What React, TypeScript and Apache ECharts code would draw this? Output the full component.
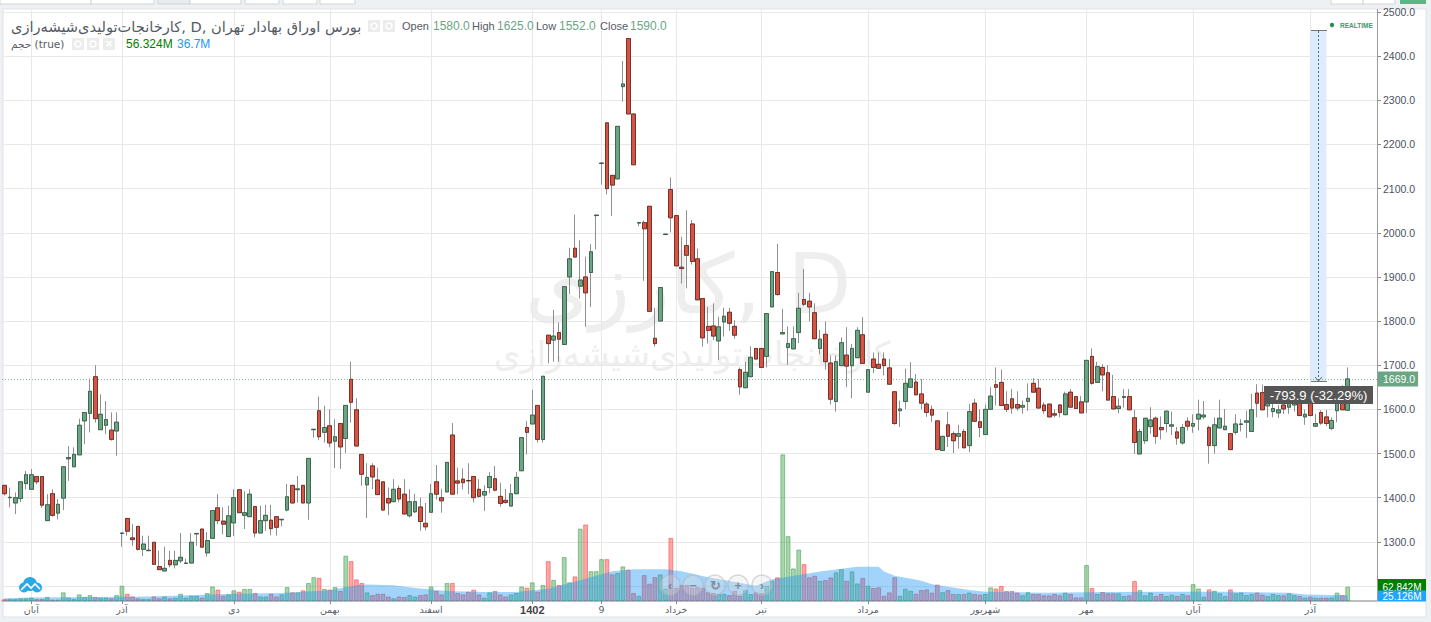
import React, { useEffect, useRef } from "react";
import * as echarts from "echarts";

const opens = [
1428,1400,1388,1398,1432,1419,1448,1448,1348,1409,1365,1399,1488,1470,1497,1574,1591,1674,1554,1564,
1553,1551,1319,1353,1309,1335,1283,1280,1299,1244,1234,1258,1248,1257,1251,1252,1318,1329,1275,1308,
1377,1347,1312,1343,1418,1360,1357,1380,1320,1348,1349,1357,1350,1372,1428,1418,1428,1388,1554,1597,
1548,1563,1528,1568,1534,1668,1599,1498,1429,1472,1440,1436,1398,1391,1421,1408,1359,1368,1379,1342,
1367,1436,1400,1413,1542,1438,1442,1439,1448,1419,1406,1423,1443,1403,1394,1381,1409,1461,1559,1567,
1609,1532,1768,1757,1774,1747,1900,1965,1879,1900,1910,2039,2157,2249,2130,2122,2331,2440,2269,2022,
2023,2060,1761,1800,1996,2098,2039,1922,1971,2020,1941,1851,1788,1789,1755,1798,1820,1788,1690,1649,
1674,1738,1738,1720,1832,1910,1771,1740,1737,1774,1849,1845,1819,1738,1770,1705,1618,1699,1723,1699,
1717,1769,1639,1714,1702,1714,1694,1640,1597,1618,1650,1662,1635,1612,1600,1574,1507,1565,1545,1539,
1550,1518,1614,1572,1543,1600,1656,1661,1611,1624,1611,1605,1618,1659,1648,1610,1612,1590,1610,1588,
1639,1629,1617,1617,1720,1661,1695,1683,1629,1602,1627,1629,1581,1499,1529,1561,1580,1559,1568,1562,
1549,1524,1573,1562,1578,1583,1559,1518,1558,1554,1545,1548,1566,1571,1550,1637,1638,1608,1595,1592,
1610,1605,1610,1635,1583,1627,1562,1593,1583,1557,1597,1628,1598];
const closes = [
1409,1401,1400,1436,1452,1452,1436,1383,1384,1360,1385,1470,1491,1498,1564,1593,1641,1579,1589,1577,
1532,1571,1320,1324,1305,1283,1295,1281,1249,1237,1240,1248,1258,1265,1252,1299,1319,1288,1303,1371,
1348,1340,1359,1400,1366,1366,1408,1320,1348,1360,1330,1333,1351,1402,1388,1420,1388,1489,1555,1538,
1559,1524,1538,1515,1609,1616,1517,1453,1446,1447,1407,1372,1388,1419,1397,1363,1391,1391,1346,1334,
1409,1408,1393,1480,1408,1433,1434,1438,1400,1403,1414,1448,1417,1387,1389,1409,1446,1536,1548,1587,
1532,1675,1749,1766,1759,1878,1941,1945,1893,1864,1957,2040,2158,2100,2108,2241,2337,2269,2154,2023,
2009,1822,1749,1876,1997,2034,1925,1919,1949,1935,1848,1762,1779,1766,1787,1811,1795,1768,1651,1684,
1718,1714,1695,1817,1912,1860,1774,1749,1760,1829,1838,1832,1760,1759,1708,1623,1708,1751,1698,1738,
1779,1704,1690,1695,1693,1699,1657,1568,1601,1659,1669,1633,1614,1593,1587,1509,1539,1539,1529,1545,
1513,1595,1573,1559,1600,1630,1650,1609,1600,1603,1603,1609,1625,1639,1603,1597,1583,1587,1593,1635,
1605,1602,1592,1711,1659,1697,1678,1621,1601,1607,1629,1599,1525,1550,1580,1576,1539,1554,1596,1565,
1535,1559,1562,1568,1589,1587,1518,1565,1580,1562,1509,1567,1567,1574,1599,1614,1599,1615,1602,1599,
1601,1615,1625,1586,1589,1586,1568,1569,1568,1575,1635,1599,1669];
const lows = [
1405,1378,1363,1390,1419,1419,1430,1377,1348,1357,1351,1372,1438,1470,1497,1521,1548,1570,1554,1544,
1529,1495,1289,1314,1291,1280,1268,1280,1249,1237,1234,1242,1240,1252,1251,1252,1291,1288,1267,1308,
1340,1317,1312,1313,1366,1329,1357,1310,1320,1325,1315,1314,1335,1369,1388,1389,1388,1350,1536,1530,
1525,1514,1467,1465,1501,1570,1517,1427,1354,1419,1407,1372,1360,1391,1390,1363,1355,1365,1325,1326,
1367,1396,1366,1413,1408,1408,1419,1408,1389,1400,1370,1410,1414,1380,1387,1381,1409,1461,1498,1567,
1525,1525,1704,1708,1708,1747,1861,1945,1851,1787,1832,1962,2109,2087,2038,2122,2297,2269,2154,2015,
1891,1822,1742,1800,1996,2001,1925,1885,1874,1928,1848,1742,1749,1757,1712,1765,1778,1760,1633,1649,
1674,1714,1695,1695,1832,1858,1771,1701,1737,1750,1834,1799,1760,1725,1690,1611,1595,1699,1650,1625,
1717,1704,1639,1682,1693,1677,1657,1565,1560,1601,1650,1633,1600,1583,1572,1509,1507,1515,1501,1511,
1513,1503,1573,1537,1543,1600,1609,1609,1594,1590,1597,1590,1597,1639,1603,1590,1583,1582,1582,1588,
1605,1602,1592,1592,1656,1661,1641,1621,1601,1591,1604,1599,1499,1499,1522,1545,1522,1532,1548,1542,
1520,1520,1552,1547,1552,1578,1477,1500,1558,1554,1507,1543,1550,1535,1550,1582,1599,1582,1582,1580,
1590,1590,1595,1586,1565,1586,1560,1565,1562,1553,1571,1599,1598];
const highs = [
1428,1423,1412,1436,1461,1465,1448,1448,1408,1419,1397,1470,1517,1514,1579,1593,1670,1700,1634,1619,
1593,1593,1320,1353,1340,1335,1314,1314,1299,1280,1289,1280,1280,1320,1262,1320,1319,1329,1322,1371,
1408,1378,1382,1419,1418,1415,1419,1380,1382,1384,1384,1357,1351,1431,1428,1449,1428,1489,1555,1629,
1608,1600,1578,1568,1609,1708,1625,1498,1478,1478,1468,1436,1423,1442,1428,1442,1419,1409,1400,1388,
1431,1474,1420,1480,1569,1468,1466,1478,1448,1442,1428,1458,1472,1434,1420,1431,1458,1536,1574,1644,
1609,1675,1768,1825,1797,1878,1966,2041,1983,1946,1974,2040,2158,2249,2130,2241,2389,2440,2269,2023,
2028,2060,1830,1876,1997,2125,2039,1991,2051,2029,1964,1851,1832,1840,1810,1830,1830,1802,1695,1708,
1743,1738,1738,1817,1912,1975,1828,1788,1788,1864,1918,1864,1840,1780,1799,1722,1722,1763,1786,1748,
1786,1809,1690,1729,1729,1729,1714,1640,1620,1692,1707,1680,1669,1617,1609,1574,1539,1594,1550,1565,
1555,1612,1624,1600,1611,1650,1695,1690,1641,1646,1641,1620,1659,1671,1669,1616,1612,1600,1612,1640,
1646,1629,1630,1711,1738,1708,1702,1700,1678,1625,1646,1646,1599,1556,1580,1605,1584,1584,1597,1595,
1560,1567,1582,1589,1622,1619,1563,1582,1622,1601,1545,1589,1578,1597,1635,1657,1656,1625,1620,1610,
1620,1630,1640,1640,1600,1640,1590,1598,1599,1582,1650,1655,1695];
const volumes = [
9,9,9,12,12,15,9,9,18,6,6,38,15,9,29,18,26,18,15,15,
12,26,67,32,20,12,9,9,20,12,20,12,15,32,15,23,23,15,35,64,
50,23,29,47,41,53,53,35,20,20,32,20,29,61,38,38,47,79,105,102,
53,50,61,44,199,175,95,79,38,26,32,32,20,12,20,18,26,20,26,29,
64,44,29,79,79,35,29,41,50,29,15,38,44,29,20,29,35,64,58,82,
41,70,175,93,70,193,82,108,318,336,131,131,184,184,117,123,152,137,35,23,
114,76,105,117,55,277,58,70,70,58,61,58,39,35,31,31,26,45,23,48,
31,38,34,67,89,104,644,285,143,226,162,104,111,89,92,104,126,140,89,130,
77,101,67,57,60,23,38,104,23,54,45,32,48,51,37,72,39,48,31,31,
31,37,31,28,31,60,55,66,44,44,37,25,39,31,31,25,25,31,25,37,
31,16,16,158,57,31,39,34,34,34,22,25,88,48,25,37,22,31,22,28,
22,31,25,74,55,19,51,45,34,22,51,34,37,26,31,37,28,22,31,26,
25,34,26,22,15,19,15,15,15,16,37,26,62.842];
// Volume average outline, read at the positions listed in maIndex
const maIndex = [0,5,17,27,43,52,61,66,68,73,77,83,90,96,102,109,114,118,124,127,132,141,144,147,153,160,164,165,167,172,174,177,181,184,195,207,217,230,241,244,252];
const maValues = [12,15,18,20,32,35,47,69,72,69,57,44,39,39,54,98,131,139,139,131,104,67,96,107,130,150,150,130,111,89,74,63,48,41,36,39,41,41,36,29,25.126];
const monthIndex = [5,22,43,61,80,99,112,126,142,162,184,203,223,245];
const monthLabels = ["آبان","آذر","دی","بهمن","اسفند","1402","9","خرداد","تیر","مرداد","شهریور","مهر","آبان","آذر"];
const lastPrice = 1669;
const measureTop = 2457;
const measureBottom = 1663;
const SLOTS = 258;
const categories: string[] = [];
for (let i = 0; i < SLOTS; i++) {
  const k = monthIndex.indexOf(i);
  categories.push(k >= 0 ? monthLabels[k] : "");
}
const isMonth = (i: number) => monthIndex.indexOf(i) >= 0;

const UI = "'Liberation Sans', Arial, sans-serif";
const AR = "'DejaVu Sans', sans-serif";
const UP = "#6ba583", DOWN = "#d75442", UPB = "#225437", DOWNB = "#5b1a13", WICK = "#8f8f91";
const TITLE = "کارخانجات‌تولیدی‌شیشه‌رازی, D, بورس اوراق بهادار تهران";

const txt = (x: number, y: number, text: string, fill: string, fontSize = 12, extra: any = {}) => ({
  type: "text", x, y, z: 60, silent: true,
  style: { text, fill, fontSize, fontFamily: UI, textVerticalAlign: "middle", ...extra },
});
const box = (x: number, y: number, w: number, h: number, fill: string, stroke?: string, z = 60) => ({
  type: "rect", z, silent: true, shape: { x, y, width: w, height: h }, style: { fill, stroke, lineWidth: stroke ? 1 : 0 },
});
const nav = (x: number, glyph: string) => [
  { type: "circle", z: 40, silent: true, shape: { cx: x, cy: 585, r: 10 }, style: { fill: "rgba(225,225,225,0.3)", stroke: "rgba(180,180,180,0.5)", lineWidth: 1.5 } },
  txt(x, 585, glyph, "rgba(110,110,110,0.7)", 13, { textAlign: "center", fontWeight: "bold" }),
];

export default function App() {
  const ref = useRef<HTMLDivElement>(null);
  useEffect(() => {
    document.body.style.margin = "0";
    const chart = echarts.init(ref.current!, undefined, { renderer: "svg" });
    const wickData = opens.map((o, i) => [o, closes[i], lows[i], highs[i]]);
    const bodyData = opens.map((o, i) => [o, closes[i], Math.min(o, closes[i]), Math.max(o, closes[i])]);
    const volData = volumes.map((v, i) => {
      const up = closes[i] >= opens[i];
      return {
        value: v,
        itemStyle: {
          color: up ? "rgba(60,165,70,0.45)" : "rgba(255,60,60,0.45)",
          borderColor: up ? "rgba(60,150,70,0.5)" : "rgba(240,70,70,0.55)",
          borderWidth: 1,
        },
      };
    });
    const maData = maIndex.map((x, i) => [x, maValues[i]]);
    const xBase = { type: "category", data: categories, boundaryGap: true };
    const graphic: any[] = [
      box(3, 9, 1423, 608, "#ffffff", "#dfe3e6", 0),
      box(0, -2, 91, 6, "#ffffff", "#cfd4d8"), box(91, -2, 63, 6, "#ffffff", "#cfd4d8"),
      box(158, -2, 32, 6, "#e8ebee", "#cfd4d8"), box(190, -2, 51, 6, "#ffffff", "#cfd4d8"),
      box(245, -2, 34, 6, "#ffffff", "#cfd4d8"), box(283, -2, 34, 6, "#ffffff", "#cfd4d8"),
      box(320, -2, 35, 6, "#ffffff", "#cfd4d8"), box(1331, -2, 32, 6, "#ffffff", "#cfd4d8"),
      box(1363, -2, 32, 6, "#ffffff", "#cfd4d8"), box(1400, -2, 26, 6, "#5cb585"),
      { type: "text", x: 688, y: 284, z: 0, silent: true, style: { text: "کارزی, D", fill: "#eeeeee", fontSize: 83, fontFamily: AR, textAlign: "center", textVerticalAlign: "middle" } },
      { type: "text", x: 692, y: 354, z: 0, silent: true, style: { text: "کارخانجات‌تولیدی‌شیشه‌رازی", fill: "#eeeeee", fontSize: 34, fontFamily: AR, textAlign: "center", textVerticalAlign: "middle" } },
      { type: "line", z: 30, silent: true, shape: { x1: 1377.5, y1: 9, x2: 1377.5, y2: 601 }, style: { stroke: "#9b9b9b", lineWidth: 1 } },
      txt(11, 26, TITLE, "#555a63", 14.6, { fontFamily: AR }),
      box(368, 20, 12, 12, "#ececec"), box(383, 20, 12, 12, "#ececec"),
      { type: "circle", z: 61, silent: true, shape: { cx: 374, cy: 26, r: 3 }, style: { fill: "none", stroke: "#fff", lineWidth: 1.5 } },
      { type: "circle", z: 61, silent: true, shape: { cx: 389, cy: 26, r: 3 }, style: { fill: "none", stroke: "#fff", lineWidth: 1.5 } },
      txt(402, 26, "Open", "#555a63", 11), txt(433, 26, "1580.0", UP, 12),
      txt(472, 26, "High", "#555a63", 11), txt(497, 26, "1625.0", UP, 12),
      txt(536, 26, "Low", "#555a63", 11), txt(559, 26, "1552.0", UP, 12),
      txt(600, 26, "Close", "#555a63", 11), txt(630, 26, "1590.0", UP, 12),
      txt(11, 44, "حجم (true)", "#555a63", 10.5, { fontFamily: AR }),
      box(72, 38, 12, 12, "#ececec"), box(87, 38, 12, 12, "#ececec"), box(103, 38, 12, 12, "#ececec"),
      { type: "circle", z: 61, silent: true, shape: { cx: 78, cy: 44, r: 3 }, style: { fill: "none", stroke: "#fff", lineWidth: 1.5 } },
      { type: "circle", z: 61, silent: true, shape: { cx: 93, cy: 44, r: 3 }, style: { fill: "none", stroke: "#fff", lineWidth: 1.5 } },
      txt(109, 44, "×", "#ffffff", 12, { textAlign: "center", fontWeight: "bold" }),
      txt(126, 44, "56.324M", "#008000", 12), txt(177, 44, "36.7M", "#2196f3", 12),
      { type: "circle", z: 60, silent: true, shape: { cx: 1332, cy: 25, r: 2.2 }, style: { fill: "#2e8b57" } },
      txt(1340, 25, "REALTIME", "#3e9a6c", 6.5, { fontWeight: "bold" }),
      { type: "line", z: 35, silent: true, shape: { x1: 1311, y1: 30.5, x2: 1327, y2: 30.5 }, style: { stroke: "#777", lineWidth: 1 } },
      { type: "line", z: 35, silent: true, shape: { x1: 1311, y1: 381.5, x2: 1327, y2: 381.5 }, style: { stroke: "#777", lineWidth: 1 } },
      { type: "line", z: 35, silent: true, shape: { x1: 1318.5, y1: 31, x2: 1318.5, y2: 381 }, style: { stroke: "#666", lineWidth: 1, lineDash: [2, 2] } },
      { type: "polyline", z: 35, silent: true, shape: { points: [[1315, 377], [1318.5, 381], [1322, 377]] }, style: { fill: "none", stroke: "#666", lineWidth: 1 } },
      box(1264, 386, 109, 18, "#565656"),
      txt(1318.5, 395, "-793.9 (-32.29%)", "#ffffff", 13, { textAlign: "center" }),
      box(1378, 579, 48, 12, "#008000"),
      txt(1402, 587, "62.842M", "#ffffff", 10, { textAlign: "center" }),
      box(1378, 590.5, 48, 11, "#21a5fb", undefined, 62),
      { ...txt(1402, 596.5, "25.126M", "#ffffff", 10, { textAlign: "center" }), z: 63 },
      { type: "circle", z: 40, silent: true, shape: { cx: 30, cy: 584, r: 7 }, style: { fill: "#2ba8e6" } },
      { type: "circle", z: 40, silent: true, shape: { cx: 24, cy: 587.5, r: 5 }, style: { fill: "#2ba8e6" } },
      { type: "circle", z: 40, silent: true, shape: { cx: 37, cy: 587.5, r: 5 }, style: { fill: "#2ba8e6" } },
      { type: "polyline", z: 41, silent: true, shape: { points: [[21, 590], [27, 584], [31, 588], [35, 584], [40, 589]] }, style: { fill: "none", stroke: "#fff", lineWidth: 1.6 } },
      ...nav(670, "‹"), ...nav(693, "−"), ...nav(715, "↻"), ...nav(738, "+"), ...nav(762, "›"),
    ];
    chart.setOption({
      animation: false,
      backgroundColor: "#eef1f3",
      textStyle: { fontFamily: UI },
      grid: [
        { left: 2, width: 1375, top: 12, height: 574 },
        { left: 2, width: 1375, top: 10, height: 591 },
      ],
      xAxis: [
        { ...xBase, gridIndex: 0, show: false },
        {
          ...xBase, gridIndex: 1,
          axisLine: { show: true, lineStyle: { color: "#a8a8a8", width: 1.5 } },
          axisTick: { show: true, alignWithLabel: true, length: 3, interval: (i: number) => isMonth(i), lineStyle: { color: "#888" } },
          axisLabel: {
            show: true, interval: (i: number) => isMonth(i), color: "#5a5f68", fontSize: 9.5, margin: 3, fontFamily: AR, hideOverlap: false,
            formatter: (v: string) => (v === "1402" ? `{b|${v}}` : v),
            rich: { b: { fontWeight: "bold", fontSize: 11, color: "#444", fontFamily: UI } },
          },
          splitLine: { show: true, alignWithLabel: true, interval: (i: number) => isMonth(i), lineStyle: { color: "#e8e8e8", width: 1 } },
        },
      ],
      yAxis: [
        {
          type: "value", gridIndex: 0, position: "right", min: 1200, max: 2500, interval: 100,
          axisLine: { show: false },
          axisTick: { show: true, length: 4, lineStyle: { color: "#888" } },
          axisLabel: { color: "#4c525e", fontSize: 10.5, margin: 6, showMinLabel: false, formatter: (v: number) => v.toFixed(1) },
          splitLine: { show: true, lineStyle: { color: "#e8e8e8", width: 1 } },
        },
        { type: "value", gridIndex: 1, min: 0, max: 2595, show: false, splitLine: { show: false } },
      ],
      series: [
        { name: "volume", type: "bar", xAxisIndex: 1, yAxisIndex: 1, barWidth: 4.8, z: 2, data: volData, silent: true },
        {
          name: "volumeMA", type: "line", xAxisIndex: 1, yAxisIndex: 1, z: 3, symbol: "none", silent: true,
          lineStyle: { width: 0 }, areaStyle: { color: "rgba(33,150,243,0.42)", opacity: 1 }, data: maData,
        },
        {
          name: "wick", type: "candlestick", xAxisIndex: 0, yAxisIndex: 0, z: 4, barWidth: 4.2, silent: true,
          itemStyle: { color: WICK, color0: WICK, borderColor: WICK, borderColor0: WICK, borderWidth: 1 },
          data: wickData,
          markArea: {
            silent: true, itemStyle: { color: "#dcebfd" },
            data: [[{ coord: [245, measureTop] }, { coord: [248, measureBottom] }]],
          },
          markLine: {
            silent: true, symbol: "none", precision: 1,
            lineStyle: { color: "#7fbb97", type: [1, 2], width: 1 },
            label: {
              position: "end", formatter: "1669.0", color: "#fff", backgroundColor: UP, fontSize: 10.5, padding: [2, 3, 2, 5], distance: 1,
            },
            data: [{ yAxis: lastPrice }],
          },
        },
        {
          name: "candles", type: "candlestick", xAxisIndex: 0, yAxisIndex: 0, z: 5, barWidth: 4.2, silent: true,
          itemStyle: { color: UP, color0: DOWN, borderColor: UPB, borderColor0: DOWNB, borderWidth: 0.7 },
          data: bodyData,
        },
      ],
      graphic,
    });
    return () => chart.dispose();
  }, []);
  return <div ref={ref} style={{ position: "absolute", left: 0, top: 0, width: 1431, height: 622, overflow: "hidden" }} />;
}
